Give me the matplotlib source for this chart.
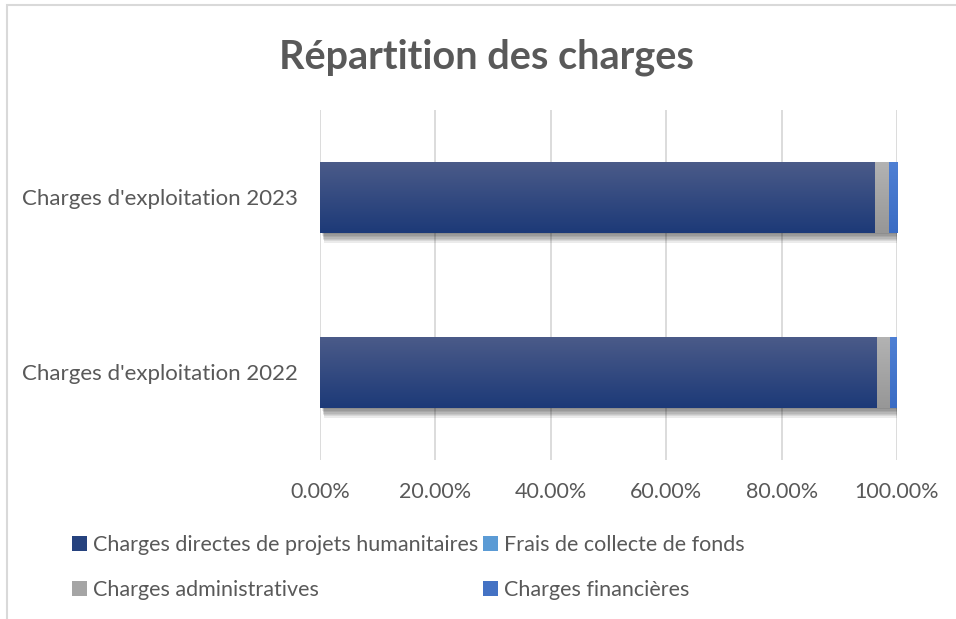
import numpy as np
import matplotlib
matplotlib.use("Agg")
import matplotlib.pyplot as plt
from matplotlib.colors import LinearSegmentedColormap
from matplotlib.patches import Patch, Rectangle
from matplotlib import patheffects as pe

plt.rcParams['font.family'] = ['Lato', 'DejaVu Sans']

categories = ["Charges d'exploitation 2022", "Charges d'exploitation 2023"]
series_names = ["Charges directes de projets humanitaires", "Frais de collecte de fonds",
                "Charges administratives", "Charges financières"]
directes = [0.965, 0.962]
collecte = [0.0, 0.0]
admin = [0.023, 0.024]
financieres = [0.012, 0.014]
xticks = [0.0, 0.2, 0.4, 0.6, 0.8, 1.0]

# degradés haut -> bas
grads = [("#4b5b89", "#1d3a78"), ("#6aa6e0", "#4a8fd6"),
         ("#b3b3b3", "#979797"), ("#4f80d4", "#3a6cc4")]
solid = ["#26427e", "#5b9bd5", "#a5a5a5", "#4472c4"]

fig = plt.figure(figsize=(9.56, 6.19), dpi=100)
ax = fig.add_axes([0.3347, 0.2569, 0.6036, 0.5654])

# ombre floue : plusieurs couches decalees
shadow = [pe.SimplePatchShadow(offset=(1 + k * 0.3, -k), shadow_rgbFace="#000000", alpha=0.08)
          for k in range(1, 8)] + [pe.Normal()]

y = np.arange(len(categories))
h = 0.406
left = np.zeros(len(categories))
grad = np.linspace(0, 1, 64).reshape(-1, 1)
for vals, (top, bot) in zip([directes, collecte, admin, financieres], grads):
    vals = np.array(vals)
    bars = ax.barh(y, vals, left=left, height=h, color=bot, linewidth=0, zorder=2)
    cmap = LinearSegmentedColormap.from_list("g", [top, bot])
    for b in bars:
        if b.get_width() <= 0:
            continue
        b.set_path_effects(shadow)
        x0, y0 = b.get_x(), b.get_y()
        im = ax.imshow(grad, cmap=cmap, aspect="auto", origin="upper", zorder=3,
                       extent=(x0, x0 + b.get_width(), y0, y0 + b.get_height()),
                       interpolation="bilinear")
        im.set_clip_path(b)
    left = left + vals

ax.set_xlim(0, 1.0)
ax.set_ylim(-0.5, 1.5)
ax.set_xticks(xticks)
ax.set_xticklabels([f"{t*100:.2f}%" for t in xticks])
ax.set_yticks(y)
ax.set_yticklabels(categories)
ax.tick_params(axis="both", length=0, labelsize=15.5, colors="#595959")
ax.tick_params(axis="x", pad=16)
ax.tick_params(axis="y", labelsize=16, pad=16)
ax.grid(axis="x", color="#d9d9d9", lw=1.3, zorder=0)
ax.set_axisbelow(True)
for s in ax.spines.values():
    s.set_visible(False)

fig.text(0.509, 0.908, "Répartition des charges", ha="center", va="center",
         fontsize=28.5, fontweight="bold", color="#595959")

handles = [Patch(facecolor=c, edgecolor="none") for c in solid]
order = [0, 2, 1, 3]
fig.legend([handles[i] for i in order], [series_names[i] for i in order],
           ncol=2, loc="center", bbox_to_anchor=(0.427, 0.083), frameon=False,
           fontsize=15.5, labelcolor="#595959", handlelength=0.7, handleheight=0.7,
           handletextpad=0.3, columnspacing=0.2, labelspacing=1.15)

# cadre du graphique
fig.add_artist(Rectangle((7 / 956, -0.05), 1.2, 1.0 - 5 / 619 + 0.05, transform=fig.transFigure,
                         fill=False, edgecolor="#d9d9d9", lw=1.5))

fig.savefig("out.png", dpi=100)
